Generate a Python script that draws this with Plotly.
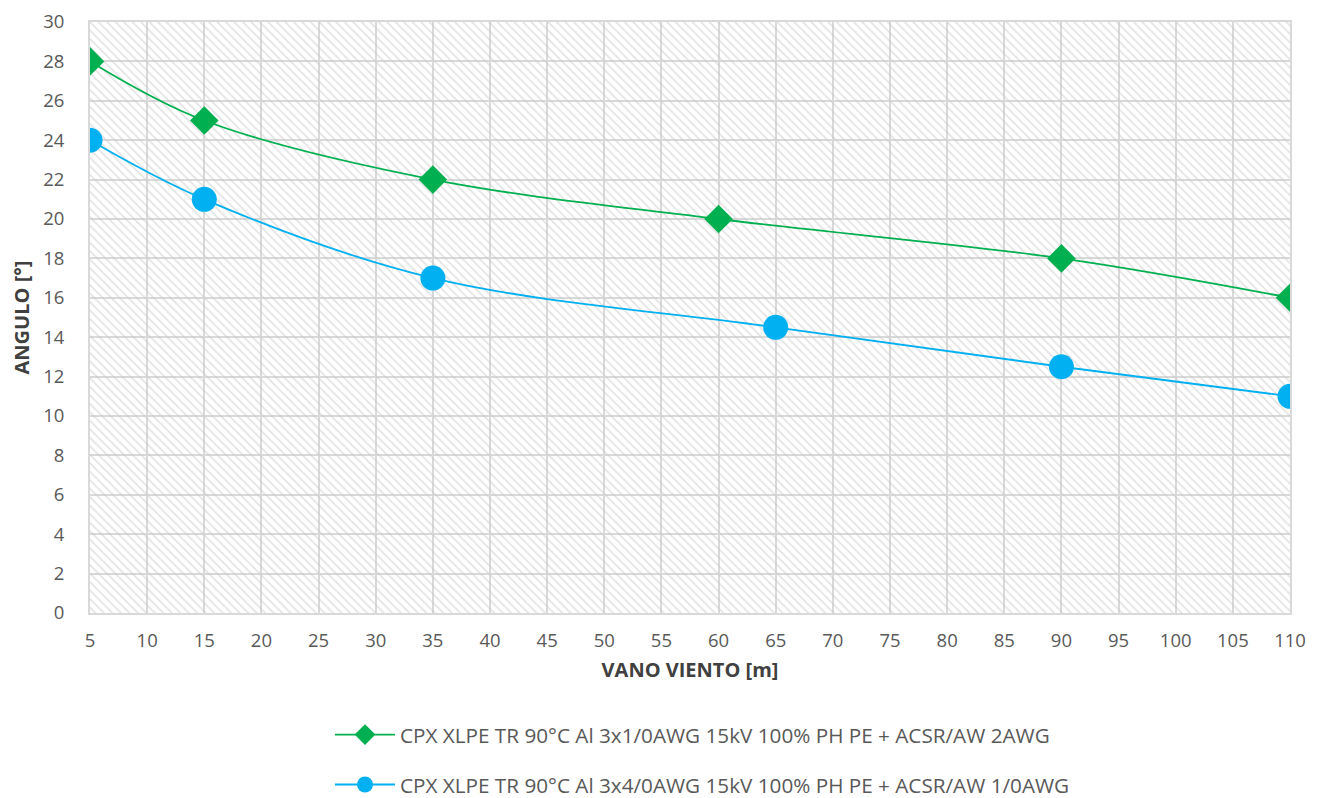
import plotly.graph_objects as go

x_green = [5, 15, 35, 60, 90, 110]
y_green = [28, 25, 22, 20, 18, 16]
x_blue = [5, 15, 35, 65, 90, 110]
y_blue = [24, 21, 17, 14.5, 12.5, 11]
name_green = "CPX XLPE TR 90°C Al 3x1/0AWG 15kV 100% PH PE + ACSR/AW 2AWG"
name_blue = "CPX XLPE TR 90°C Al 3x4/0AWG 15kV 100% PH PE + ACSR/AW 1/0AWG"
x_range = [5, 110]
y_range = [0, 30]

FONT = "Open Sans"
GREY = "#595959"

fig = go.Figure()

# hatched plot-area background
fig.add_trace(go.Scatter(
    x=[x_range[0], x_range[1], x_range[1], x_range[0], x_range[0]],
    y=[y_range[0], y_range[0], y_range[1], y_range[1], y_range[0]],
    mode="none", fill="toself", fillcolor="rgba(0,0,0,0)",
    fillpattern=dict(shape="\\", fgcolor="#c8c8c8", bgcolor="rgba(255,255,255,0)",
                     size=6, solidity=0.3),
    showlegend=False, hoverinfo="skip",
))

fig.add_trace(go.Scatter(
    x=x_green, y=y_green, name=name_green, mode="lines+markers",
    line=dict(color="#00b050", width=1.8, shape="spline", smoothing=1.0),
    marker=dict(symbol="diamond", size=22, color="#00b050"),
    legendgroup="g",
))
fig.add_trace(go.Scatter(
    x=x_blue, y=y_blue, name=name_blue, mode="lines+markers",
    line=dict(color="#00b0f0", width=1.8, shape="spline", smoothing=1.0),
    marker=dict(symbol="circle", size=25, color="#00b0f0"),
    legendgroup="b",
))

fig.update_layout(
    width=1315, height=790,
    margin=dict(l=82, r=33, t=14, b=185, autoexpand=False),
    paper_bgcolor="white", plot_bgcolor="white",
    font=dict(family=FONT, size=18.5, color=GREY),
    legend=dict(
        x=0.2, y=-0.172, xanchor="left", yanchor="top",
        font=dict(size=20.7, color=GREY, family=FONT),
        tracegroupgap=20, itemwidth=60, bgcolor="rgba(0,0,0,0)",
    ),
    xaxis=dict(
        range=x_range, dtick=5, tick0=5, automargin=False,
        showgrid=True, gridcolor="#d9d9d9", gridwidth=2,
        zeroline=False, showline=True, mirror=True, linecolor="#d9d9d9", linewidth=2,
        ticks="", ticklabelstandoff=10, tickfont=dict(size=18.5),
        ticklabeloverflow="allow",
        title=dict(text="<b>VANO VIENTO [m]</b>", font=dict(size=20, color="#404040"), standoff=12),
    ),
    yaxis=dict(
        range=y_range, dtick=2, automargin=False,
        showgrid=True, gridcolor="#d9d9d9", gridwidth=2,
        zeroline=False, showline=True, mirror=True, linecolor="#d9d9d9", linewidth=2,
        ticks="", ticklabelstandoff=20, tickfont=dict(size=18.5),
        ticklabeloverflow="allow",
        title=dict(text="<b>ANGULO [°]</b>", font=dict(size=20, color="#404040"), standoff=10),
    ),
)

fig.write_html("out.html")
